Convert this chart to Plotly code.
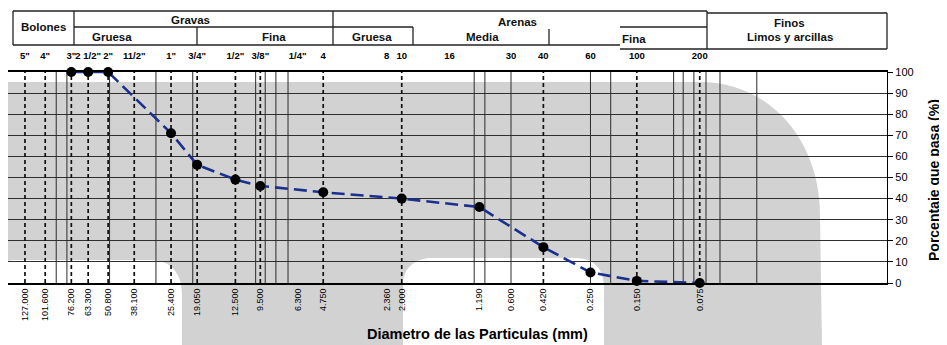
import numpy as np
import plotly.graph_objects as go

# ---------------- data ----------------
diam_mm = [76.2, 63.3, 50.8, 25.4, 19.05, 12.5, 9.5, 4.75, 2.0, 0.85, 0.42, 0.25, 0.15, 0.075]
pct_pasa = [100, 100, 100, 71, 56, 49, 46, 43, 40, 36, 17, 5, 1, 0]

bottom_tick_vals = [127.0, 101.6, 76.2, 63.3, 50.8, 38.1, 25.4, 19.05, 12.5, 9.5, 6.3, 4.75,
                    2.36, 2.0, 0.85, 0.6, 0.42, 0.25, 0.15, 0.075]
bottom_tick_text = ["127.000", "101.600", "76.200", "63.300", "50.800", "38.100", "25.400",
                    "19.050", "12.500", "9.500", "6.300", "4.750", "2.360", "2.000", "1.190",
                    "0.600", "0.420", "0.250", "0.150", "0.075"]

sieve_vals = [127.0, 101.6, 76.2, 63.3, 50.8, 38.1, 25.4, 19.05, 12.5, 9.5, 6.3, 4.75,
              2.36, 2.0, 1.18, 0.6, 0.42, 0.25, 0.15, 0.075]
sieve_names = ['5"', '4"', '3"', '2 1/2"', '2"', '11/2"', '1"', '3/4"', '1/2"', '3/8"', '1/4"',
               '4', '8', '10', '16', '30', '40', '60', '100', '200']

solid_grid_mm = [90, 80, 50, 30, 20, 10, 9, 8, 7, 0.9, 0.8, 0.6, 0.25, 0.2, 0.1, 0.09,
                 0.08, 0.07, 0.06, 0.04]
dashed_grid_mm = [127, 101.6, 76.2, 63.3, 50.8, 38.1, 25.4, 19.05, 12.5, 9.5, 4.75, 2.0,
                  0.42, 0.15, 0.075]

y_ticks = list(range(0, 101, 10))

# ---------------- layout helpers ----------------
# the page body adds an 8px offset, so the figure is 8px smaller than the window
OFF = 8
W, H = 947 - OFF, 345 - OFF
L, R, T, B = 8, 887, 72, 283   # plot area in window pixels
FONT = "Liberation Sans, Arial, sans-serif"


def px(x):
    return (x - L) / (R - L)


def py(y):
    return (B - y) / (B - T)


def vlines(vals):
    xs, ys = [], []
    for v in vals:
        xs += [v, v, None]
        ys += [0, 100, None]
    return xs, ys


fig = go.Figure()

sx, sy = vlines(solid_grid_mm)
fig.add_trace(go.Scatter(x=sx, y=sy, mode="lines", line=dict(color="#2b2b2b", width=1),
                         hoverinfo="skip", showlegend=False))
dx, dy = vlines(dashed_grid_mm)
fig.add_trace(go.Scatter(x=dx, y=dy, mode="lines",
                         line=dict(color="#111111", width=1.7, dash="4px,3px"),
                         hoverinfo="skip", showlegend=False))

fig.add_trace(go.Scatter(x=diam_mm, y=pct_pasa, mode="lines+markers",
                         line=dict(color="#1b2f8f", width=2.6, dash="13px,6px"),
                         marker=dict(color="black", size=10),
                         cliponaxis=False, showlegend=False))

# invisible trace to carry the top sieve axis
fig.add_trace(go.Scatter(x=sieve_vals, y=[50] * len(sieve_vals), xaxis="x2", mode="markers",
                         marker=dict(opacity=0), hoverinfo="skip", showlegend=False))

xrange = [2.185, -2.021]

fig.update_layout(
    width=W, height=H,
    margin=dict(l=L - OFF, r=947 - R, t=T - OFF, b=345 - B, pad=0),
    paper_bgcolor="white", plot_bgcolor="rgba(0,0,0,0)",
    font=dict(family=FONT, color="black"),
    showlegend=False,
    xaxis=dict(type="log", range=xrange, tickmode="array", tickvals=bottom_tick_vals,
               ticktext=bottom_tick_text, tickangle=-90, tickfont=dict(size=9),
               showgrid=False, zeroline=False, ticks="", showline=True,
               linecolor="black", linewidth=1.6, mirror=True, automargin=False),
    xaxis2=dict(type="log", range=xrange, overlaying="x", side="top", anchor="y",
                tickmode="array", tickvals=sieve_vals, ticktext=sieve_names, tickangle=0,
                tickfont=dict(size=9.5, weight="bold"), showgrid=False, zeroline=False,
                ticks="outside", ticklen=8, tickcolor="rgba(0,0,0,0)", showline=False,
                automargin=False),
    yaxis=dict(range=[0, 100], side="right", tickmode="array", tickvals=y_ticks,
               tickfont=dict(size=11), showgrid=True, gridcolor="#2f2f2f", gridwidth=1,
               zeroline=False, ticks="outside", ticklen=5, tickcolor="black",
               showline=True, linecolor="black", linewidth=1.2, mirror=True,
               automargin=False),
)

shapes = []
# scanned grey background blob
grey_path_px = [
    ("M", 0, 82), ("L", 700, 82), ("C", 770, 82, 820, 140, 820, 215), ("L", 822, 345),
    ("L", 604, 345), ("L", 604, 288), ("C", 604, 270, 595, 258, 575, 258), ("L", 432, 258),
    ("C", 415, 258, 403, 268, 403, 285), ("L", 403, 345), ("L", 182, 345), ("L", 182, 295),
    ("C", 182, 272, 170, 260, 150, 260), ("L", 15, 260), ("C", 5, 260, 0, 263, 0, 268), ("Z",)
]
parts = []
for seg in grey_path_px:
    cmd = seg[0]
    if cmd == "Z":
        parts.append("Z")
        continue
    pts = seg[1:]
    coords = []
    for i in range(0, len(pts), 2):
        coords.append(f"{px(pts[i]):.5f},{py(pts[i + 1]):.5f}")
    parts.append(cmd + " " + " ".join(coords))
shapes.append(dict(type="path", xref="paper", yref="paper", path=" ".join(parts),
                   fillcolor="#d2d2d2", line=dict(width=0), layer="below"))

# header table lines
header_segs = [
    (13, 11, 707, 11), (707, 13, 887, 13), (13, 45, 620, 45), (620, 49, 887, 49),
    (74, 27, 413, 27), (620, 27, 707, 27),
    (13, 11, 13, 45), (74, 11, 74, 45), (197, 27, 197, 45), (333, 11, 333, 45),
    (413, 27, 413, 45), (549, 29, 549, 45), (707, 11, 707, 49), (887, 13, 887, 49),
]
for x0, y0, x1, y1 in header_segs:
    shapes.append(dict(type="line", xref="paper", yref="paper", x0=px(x0), y0=py(y0),
                       x1=px(x1), y1=py(y1), line=dict(color="#222222", width=1.3)))
fig.update_layout(shapes=shapes)

annotations = []
header_texts = [
    (43, 27, "Bolones"), (190, 20, "Gravas"), (112, 37, "Gruesa"), (274, 37, "Fina"),
    (517, 22, "Arenas"), (372, 37, "Gruesa"), (482, 37, "Media"), (634, 39, "Fina"),
    (789, 23, "Finos"), (790, 37, "Limos y arcillas"),
]
for x, y, t in header_texts:
    annotations.append(dict(x=px(x), y=py(y), xref="paper", yref="paper", text=f"<b>{t}</b>",
                            showarrow=False, xanchor="center", yanchor="middle",
                            font=dict(size=11.5, color="#111111")))
annotations.append(dict(x=px(477), y=py(334), xref="paper", yref="paper",
                        text="<b>Diametro de las Particulas (mm)</b>", showarrow=False,
                        xanchor="center", yanchor="middle", font=dict(size=14.5)))
annotations.append(dict(x=px(934), y=py(180), xref="paper", yref="paper",
                        text="<b>Porcentaje que pasa (%)</b>", showarrow=False, textangle=-90,
                        xanchor="center", yanchor="middle", font=dict(size=14)))
fig.update_layout(annotations=annotations)

fig.write_html("out.html")
